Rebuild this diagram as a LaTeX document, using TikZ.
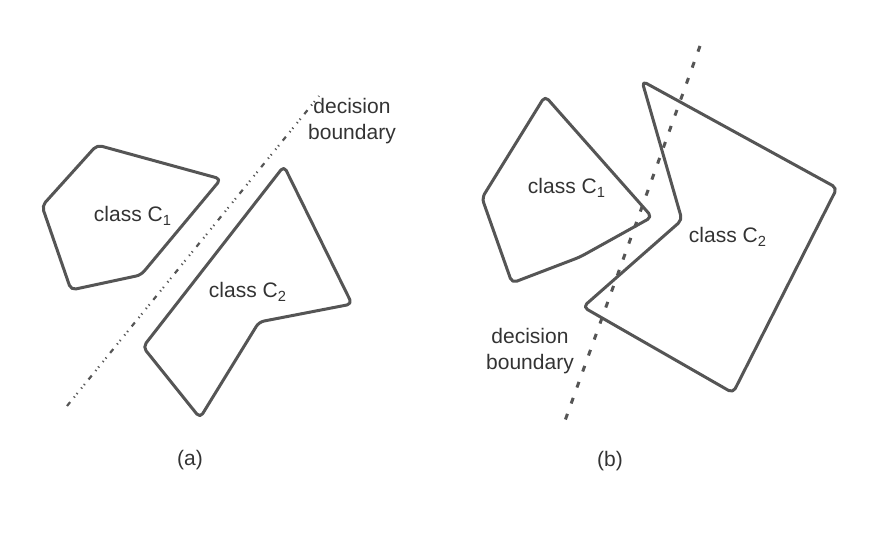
\documentclass[tikz,border=0pt]{standalone}
\usepackage{fontspec}
\setmainfont{Liberation Sans}
\usetikzlibrary{positioning}
\definecolor{edgegray}{HTML}{555555}
\definecolor{inkgray}{HTML}{333333}

\begin{document}
\begin{tikzpicture}[
    x=0.5pt, y=-0.5pt,
    every node/.style={font=\fontsize{10.5}{13.3}\selectfont, text=inkgray, align=center, inner sep=0pt},
    region/.style={draw=edgegray, line width=1.5pt, rounded corners=2.5pt, line join=round},
    dotline/.style={draw=edgegray, line width=1.1pt, dash pattern=on 2.5pt off 3pt on 0.6pt off 1.6pt on 0.6pt off 3pt on 0.6pt off 1.6pt on 0.6pt off 3pt},
    dashline/.style={draw=edgegray, line width=1.5pt, dash pattern=on 3pt off 5.5pt},
]
\useasboundingbox (0,0) rectangle (880,534);
% panel (a)
\draw[dotline] (67,406) -- (319,96);
\draw[region] (97,145) -- (221,179) -- (141,275) -- (71,290) -- (42,206) -- cycle;
\draw[region] (284,166) -- (352,304) -- (259,322) -- (200,418) -- (143,347) -- cycle;
\node (a1) at (133,216) {class C\textsubscript{1}};
\node (a2) at (248,292) {class C\textsubscript{2}};
\node (abound) at (352,121) {decision\\boundary};
\node (alabel) at (190,460) {(a)};
% panel (b)
\draw[dashline] (700,46) -- (562,429);
\draw[region] (545,96) -- (652,217) -- (580,257) -- (512,283) -- (482,198) -- cycle;
\draw[region] (642,81) -- (837,188) -- (733,393) -- (583,307) -- (682,220) -- cycle;
\node (b1) at (567,188) {class C\textsubscript{1}};
\node (b2) at (728,237) {class C\textsubscript{2}};
\node (bbound) at (530,351) {decision\\boundary};
\node (blabel) at (610,461) {(b)};
\end{tikzpicture}
\end{document}
